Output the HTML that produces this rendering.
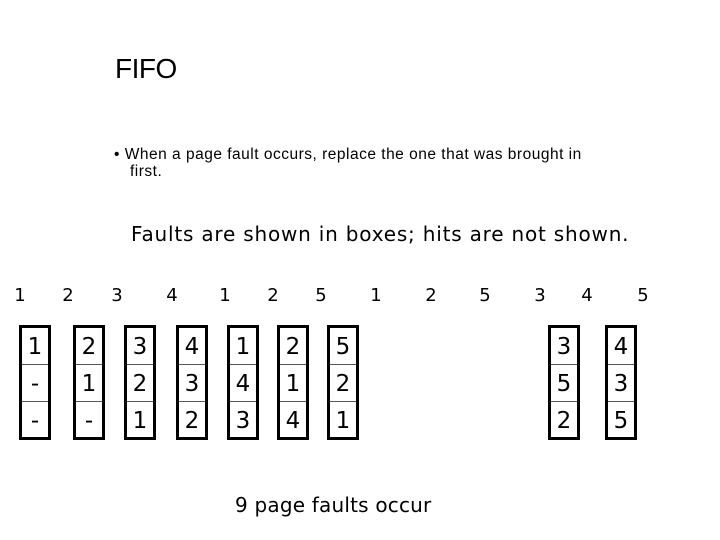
<!DOCTYPE html>
<html><head><meta charset="utf-8"><style>
body{margin:0;width:720px;height:540px;background:#fff;position:relative;overflow:hidden;font-family:"DejaVu Sans","Liberation Sans",sans-serif;color:#000}
.a{position:absolute;white-space:nowrap}
.n{position:absolute;top:285px;font-size:18px;width:30px;text-align:center}
.b{position:absolute;top:325px;width:26px;height:109px;border:3px solid #000;box-sizing:content-box}
.c{height:36px;line-height:38px;text-align:center;font-size:23px;border-bottom:1px solid #555}
.c:last-child{border-bottom:none}
</style></head><body>
<div class="a" style="left:115px;top:53px;font-family:'Liberation Sans',sans-serif;font-size:28px;font-weight:300;letter-spacing:-0.5px">FIFO</div>
<div class="a" style="left:114px;top:146px;font-family:'Liberation Sans',sans-serif;font-size:15.5px;line-height:17px;letter-spacing:0.5px">•&nbsp;When a page fault occurs, replace the one that was brought in<br><span style="padding-left:16px">first.</span></div>
<div class="a" style="left:131px;top:222px;font-size:20px;letter-spacing:0.8px">Faults are shown in boxes; hits are not shown.</div>
<div class="n" style="left:5px">1</div><div class="n" style="left:53px">2</div><div class="n" style="left:102px">3</div><div class="n" style="left:157px">4</div><div class="n" style="left:210px">1</div><div class="n" style="left:258px">2</div><div class="n" style="left:306px">5</div><div class="n" style="left:361px">1</div><div class="n" style="left:416px">2</div><div class="n" style="left:470px">5</div><div class="n" style="left:525px">3</div><div class="n" style="left:572px">4</div><div class="n" style="left:628px">5</div>
<div class="b" style="left:19px"><div class="c">1</div><div class="c">-</div><div class="c">-</div></div>
<div class="b" style="left:73px"><div class="c">2</div><div class="c">1</div><div class="c">-</div></div>
<div class="b" style="left:124px"><div class="c">3</div><div class="c">2</div><div class="c">1</div></div>
<div class="b" style="left:176px"><div class="c">4</div><div class="c">3</div><div class="c">2</div></div>
<div class="b" style="left:227px"><div class="c">1</div><div class="c">4</div><div class="c">3</div></div>
<div class="b" style="left:277px"><div class="c">2</div><div class="c">1</div><div class="c">4</div></div>
<div class="b" style="left:327px"><div class="c">5</div><div class="c">2</div><div class="c">1</div></div>
<div class="b" style="left:548px"><div class="c">3</div><div class="c">5</div><div class="c">2</div></div>
<div class="b" style="left:605px"><div class="c">4</div><div class="c">3</div><div class="c">5</div></div>
<div class="a" style="left:235px;top:493px;font-size:20px;letter-spacing:0.2px">9 page faults occur</div>
</body></html>
